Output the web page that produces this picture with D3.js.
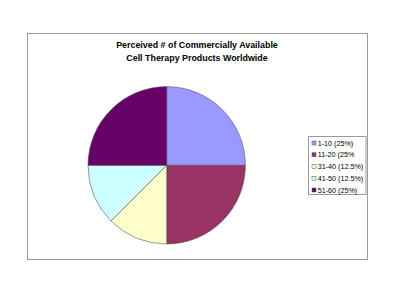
<!DOCTYPE html>
<html>
<head>
<meta charset="utf-8">
<script src="https://cdn.jsdelivr.net/npm/d3@7"></script>
<style>
  body { margin: 0; background: #fff; }
  svg { display: block; font-family: "Liberation Sans", Arial, sans-serif; }
</style>
</head>
<body>
<svg id="chart" width="400" height="300"></svg>
<script>
const titleLines = ["Perceived # of Commercially Available", "Cell Therapy Products Worldwide"];
const categories = ["1-10", "11-20", "31-40", "41-50", "51-60"];
const shares = [25, 25, 12.5, 12.5, 25];
const legendLabels = ["1-10 (25%)", "11-20 (25%", "31-40 (12.5%)", "41-50 (12.5%)", "51-60 (25%)"];
const sliceColors = ["#9999ff", "#993366", "#ffffcc", "#ccffff", "#660066"];

const svg = d3.select("#chart");

// outer chart frame
svg.append("rect")
  .attr("x", 27.5).attr("y", 33.5)
  .attr("width", 340).attr("height", 226)
  .attr("fill", "#fff")
  .attr("stroke", "#9a9a9a")
  .attr("stroke-width", 1);

svg.append("text")
  .attr("text-anchor", "middle")
  .attr("font-size", 8.9)
  .attr("font-weight", "bold")
  .attr("fill", "#000")
  .selectAll("tspan")
  .data(titleLines)
  .enter()
  .append("tspan")
  .attr("x", 197)
  .attr("y", (d, i) => 48 + i * 12.6)
  .text(d => d);

const color = d3.scaleOrdinal().domain(categories).range(sliceColors);

const pie = d3.pie().sort(null).value((d, i) => shares[i]);
const arc = d3.arc().innerRadius(0).outerRadius(78.7);

const pieG = svg.append("g").attr("transform", "translate(166.7,165.3)");

pieG.selectAll("path")
  .data(pie(categories))
  .enter()
  .append("path")
  .attr("d", arc)
  .attr("fill", d => color(d.data))
  .attr("stroke", "#555")
  .attr("stroke-width", 0.6);

// legend
const legend = svg.append("g").attr("transform", "translate(308.5,136.5)");

legend.append("rect")
  .attr("width", 57.5).attr("height", 58)
  .attr("fill", "#fff")
  .attr("stroke", "#9a9a9a")
  .attr("stroke-width", 1);

const item = legend.selectAll(".item")
  .data(categories)
  .enter()
  .append("g")
  .attr("class", "item")
  .attr("transform", (d, i) => `translate(0, ${6 + i * 11.75})`);

item.append("rect")
  .attr("x", 3.5).attr("y", -1.5)
  .attr("width", 4).attr("height", 4)
  .attr("fill", d => color(d))
  .attr("stroke", "#555")
  .attr("stroke-width", 0.5);

item.append("text")
  .attr("x", 9.2)
  .attr("y", 3)
  .attr("font-size", 7.2)
  .attr("fill", "#000")
  .text((d, i) => legendLabels[i]);
</script>
</body>
</html>
